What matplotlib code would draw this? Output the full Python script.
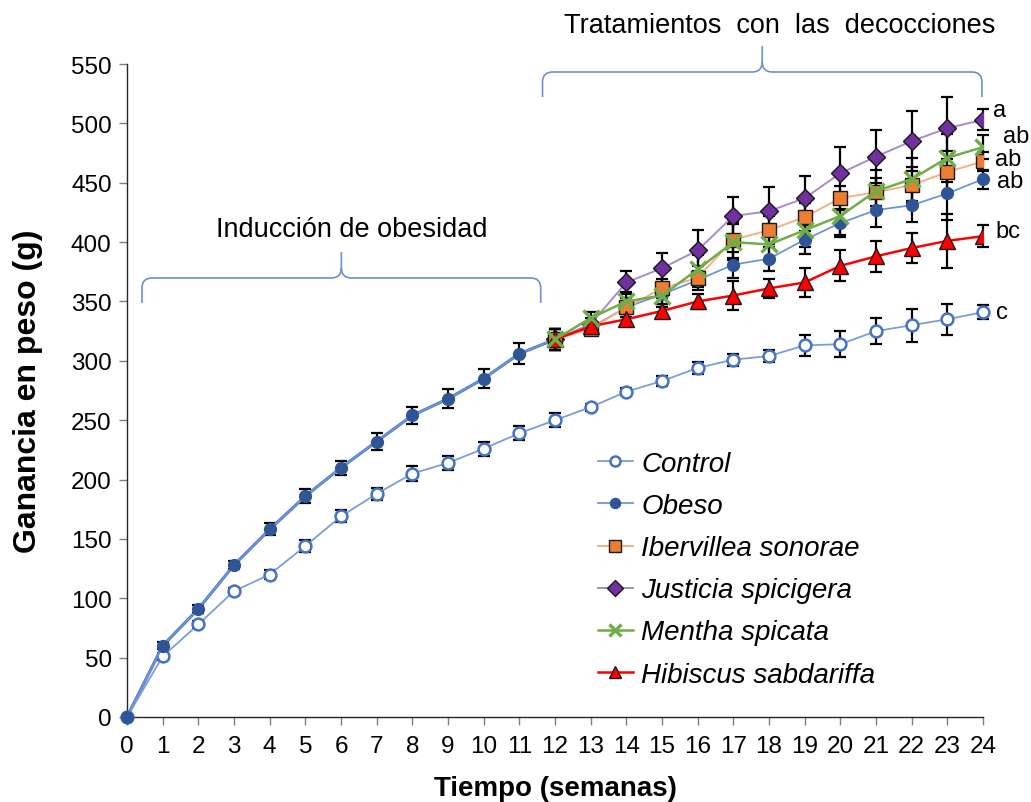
import numpy as np
import matplotlib
matplotlib.use("Agg")
import matplotlib.pyplot as plt
from matplotlib.path import Path
from matplotlib.patches import PathPatch
from matplotlib.transforms import IdentityTransform

plt.rcParams['font.family'] = ['Liberation Sans', 'DejaVu Sans']

# ---- data -------------------------------------------------------------
weeks_all = np.arange(0, 25)
weeks_trt = np.arange(12, 25)

control = [0, 51, 78, 106, 120, 144, 169, 188, 205, 214, 226, 239, 250,
           261, 274, 283, 294, 301, 304, 313, 314, 325, 330, 335, 341]
control_err = [0, 3, 3, 3, 4, 5, 5, 5, 6, 6, 6, 6, 6,
               3, 3, 4, 5, 5, 5, 9, 11, 11, 14, 13, 6]

obeso = [0, 60, 91, 128, 158, 186, 210, 232, 254, 268, 285, 306, 318,
         328, 345, 356, 368, 381, 386, 402, 416, 427, 431, 441, 453]
obeso_err = [0, 3, 3, 3, 5, 6, 6, 7, 7, 8, 8, 9, 9,
             5, 8, 8, 6, 11, 10, 12, 12, 14, 14, 22, 8]

ibervillea = [318, 327, 345, 361, 370, 402, 410, 421, 437, 442, 448, 459, 468]
ibervillea_err = [9, 5, 8, 8, 10, 15, 12, 12, 10, 12, 15, 18, 8]

justicia = [318, 331, 366, 378, 393, 422, 426, 437, 458, 472, 485, 496, 503]
justicia_err = [9, 5, 10, 13, 17, 16, 20, 19, 22, 22, 25, 26, 9]

mentha = [318, 336, 350, 355, 377, 400, 398, 410, 422, 443, 453, 471, 480]
mentha_err = [9, 5, 8, 10, 12, 15, 14, 14, 16, 18, 18, 20, 10]

hibiscus = [318, 329, 335, 342, 350, 355, 361, 366, 380, 388, 395, 401, 405]
hibiscus_err = [9, 4, 5, 6, 6, 12, 8, 12, 13, 13, 13, 23, 9]

labels = ['Control', 'Obeso', 'Ibervillea sonorae', 'Justicia spicigera',
          'Mentha spicata', 'Hibiscus sabdariffa']
letters = ['c', 'ab', 'ab', 'a', 'ab', 'bc']
xticks = list(range(0, 25))
yticks = list(range(0, 551, 50))

# ---- figure -----------------------------------------------------------
W, H = 1031, 803
fig = plt.figure(figsize=(W / 100, H / 100), dpi=100)
ax = fig.add_axes([127 / W, 1 - 718 / H, (983 - 127) / W, (718 - 65) / H])
ax.set_xlim(0, 24)
ax.set_ylim(0, 550)

eb_kw = dict(fmt='none', ecolor='black', elinewidth=1.6, capsize=4,
             capthick=1.6, zorder=2.5, clip_on=False)

# Control
ax.errorbar(weeks_all, control, yerr=control_err, **eb_kw)
h_control, = ax.plot(weeks_all, control, color='#7B9EDB', lw=1.3,
                     marker='o', ms=8.5, mfc='white', mec='#4472C4', mew=1.8,
                     zorder=3, clip_on=False)

# Obese group (thicker line over the induction period)
ax.errorbar(weeks_all, obeso, yerr=obeso_err, **eb_kw)
ax.plot(weeks_all[:13], obeso[:13], color='#4472C4', lw=2.2, zorder=2.9,
        clip_on=False)
h_obeso, = ax.plot(weeks_all, obeso, color='#6F95D8', lw=1.3,
                   marker='o', ms=8.5, mfc='#2F5597', mec='#2F5597', mew=1.0,
                   zorder=3.0, clip_on=False)

# Treatments
ax.errorbar(weeks_trt, ibervillea, yerr=ibervillea_err, **eb_kw)
h_iber, = ax.plot(weeks_trt, ibervillea, color='#F4B183', lw=1.4,
                  marker='s', ms=10, mfc='#ED7D31', mec='#1a1a1a', mew=1.0,
                  zorder=3.1)

ax.errorbar(weeks_trt, justicia, yerr=justicia_err, **eb_kw)
h_just, = ax.plot(weeks_trt, justicia, color='#A98BCF', lw=1.4,
                  marker='D', ms=9, mfc='#7030A0', mec='#1a1a1a', mew=1.0,
                  zorder=3.0)

ax.errorbar(weeks_trt, hibiscus, yerr=hibiscus_err, **eb_kw)
h_hib, = ax.plot(weeks_trt, hibiscus, color='#FF0000', lw=1.8,
                 marker='^', ms=11, mfc='#FF0000', mec='#1a1a1a', mew=1.0,
                 zorder=3.2)

ax.errorbar(weeks_trt, mentha, yerr=mentha_err, **eb_kw)
h_ment, = ax.plot(weeks_trt, mentha, color='#70AD47', lw=1.8,
                  marker='x', ms=11, mec='#70AD47', mew=2.4, zorder=3.3)

# Significance letters at the last week
finals = [control[-1], obeso[-1], ibervillea[-1], justicia[-1],
          mentha[-1], hibiscus[-1]]
offsets = [(13, 0), (14, -2), (12, 2), (10, 10), (20, 11), (12, 5)]
for val, let, off in zip(finals, letters, offsets):
    ax.annotate(let, xy=(24, val), xytext=off, textcoords='offset pixels',
                ha='left', va='center', fontsize=17, annotation_clip=False)

# Axes styling
for s in ['top', 'right']:
    ax.spines[s].set_visible(False)
for s in ['left', 'bottom']:
    ax.spines[s].set_color('#262626')
    ax.spines[s].set_linewidth(1.0)
ax.set_xticks(xticks)
ax.set_yticks(yticks)
ax.tick_params(axis='both', direction='out', length=6, width=1,
               color='#808080', labelsize=17.5)
ax.tick_params(axis='y', pad=5)
ax.tick_params(axis='x', pad=7)

ax.set_xlabel('Tiempo (semanas)', fontsize=20, fontweight='bold', labelpad=13)
ax.set_ylabel('Ganancia en peso (g)', fontsize=23, fontweight='bold',
              labelpad=20)

# Legend
handles = [h_control, h_obeso, h_iber, h_just, h_ment, h_hib]
leg = fig.legend(handles, labels, loc='upper left',
                 bbox_to_anchor=(598 / W, 1 - 452 / H), frameon=False,
                 prop={'style': 'italic', 'size': 20}, handlelength=1.25,
                 handletextpad=0.3, labelspacing=0.58, borderpad=0,
                 borderaxespad=0, markerscale=0.85)


# Curly braces over the two study periods
def brace(x0, x1, y_base, rise=25, tip=26, r=10):
    """Draw a horizontal curly brace opening downward, in pixel space."""
    p0 = ax.transData.transform((x0, 0))[0]
    p1 = ax.transData.transform((x1, 0))[0]
    yb = H - y_base
    yh = yb + rise
    yt = yh + tip
    pm = (p0 + p1) / 2
    verts = [(p0, yb), (p0, yh - r), (p0, yh), (p0 + r, yh),
             (pm - r, yh), (pm, yh), (pm, yh + r), (pm, yt),
             (pm, yh + r), (pm, yh), (pm + r, yh),
             (p1 - r, yh), (p1, yh), (p1, yh - r), (p1, yb)]
    codes = [Path.MOVETO, Path.LINETO, Path.CURVE3, Path.CURVE3,
             Path.LINETO, Path.CURVE3, Path.CURVE3, Path.LINETO,
             Path.MOVETO, Path.CURVE3, Path.CURVE3,
             Path.LINETO, Path.CURVE3, Path.CURVE3, Path.LINETO]
    patch = PathPatch(Path(verts, codes), fill=False, ec='#6C8FD6', lw=1.2,
                      transform=IdentityTransform(), clip_on=False)
    fig.add_artist(patch)
    return pm, yt


brace(0.42, 11.6, 304)
brace(11.65, 23.97, 98)

fig.text(352 / W, 1 - 230 / H, 'Inducción de obesidad', ha='center',
         va='center', fontsize=19.5)
fig.text(780 / W, 1 - 26 / H, 'Tratamientos  con  las  decocciones',
         ha='center', va='center', fontsize=19.5)

fig.savefig('out.png', dpi=100)
